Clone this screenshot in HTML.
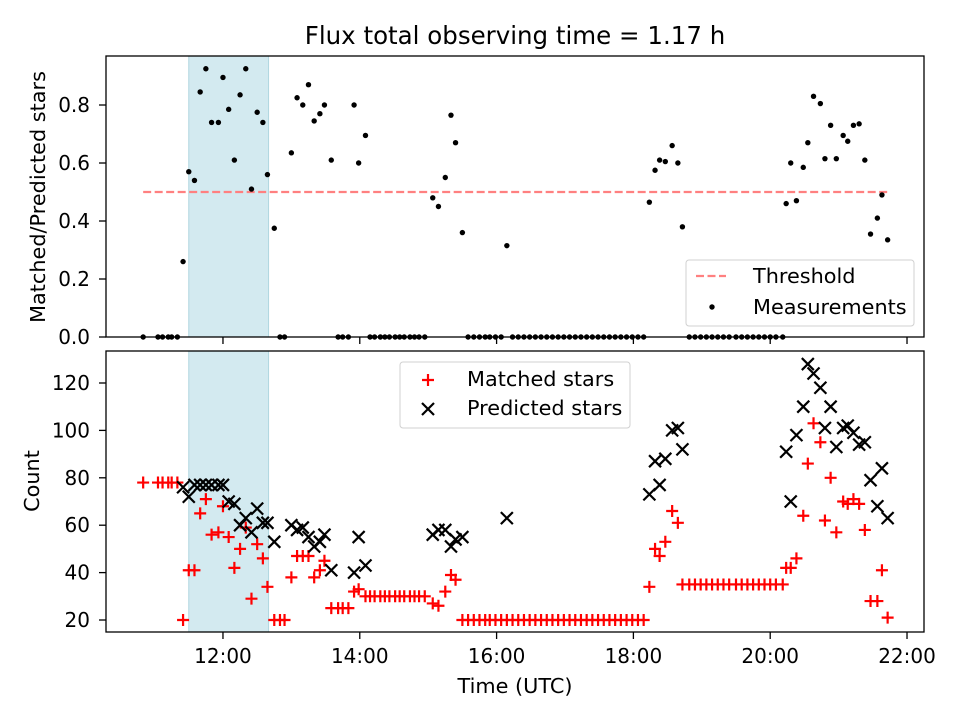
<!DOCTYPE html>
<html><head><meta charset="utf-8"><style>
body{margin:0;background:#fff}
svg text{font-family:"DejaVu Sans","Liberation Sans",sans-serif;fill:#000}
</style></head><body>
<svg id="chart" width="960" height="720" viewBox="0 0 960 720" xmlns="http://www.w3.org/2000/svg" style="position:absolute;left:0;top:0">
<rect width="960" height="720" fill="#fff"/>
<text x="515" y="44" font-size="24.5" text-anchor="middle">Flux total observing time = 1.17 h</text>
<g id="topg"></g><g id="botg"></g>
</svg>
<script>
// time in minutes after midnight (UTC)
const times=[650,663,667,672,675,680,685,690,695,700,705,710,716,720,725,730,735,740,745,750,755,759,765,770,774,780,785,790,795,800,805,809,815,821,825,830,835,839,845,
849,853,858,862,866,871,875,879,884,888,892,897,904,909,915,920,924,930,935,940,945,950,954,959,964,969,
974,979,984,989,994,999,1004,1009,1014,1019,1024,1029,1034,1039,1044,1049,1054,1059,1064,1069,1074,1079,1084,1089,
1094,1099,1103,1108,1114,1119,1123,1129,1134,1139,1144,1149,1154,1159,1164,1170,1175,1180,1185,1190,1195,1200,1205,1211,
1214,1218,1223,1229,1233,1238,1244,1248,1253,1258,1264,1268,1273,1278,1283,1288,1294,1298,1303];
const matched=[78,78,78,78,78,78,20,41,41,65,71,56,57,68,55,42,50,59,29,52,46,34,20,20,20,38,47,47,47,38,41,45,25,25,25,25,32,33,30,
30,30,30,30,30,30,30,30,30,30,30,30,27,26,32,39,37,20,20,20,20,20,20,20,20,20,
20,20,20,20,20,20,20,20,20,20,20,20,20,20,20,20,20,20,20,20,20,20,20,20,
34,50,47,53,66,61,35,35,35,35,35,35,35,35,35,35,35,35,35,35,35,35,35,35,
42,42,46,64,86,103,95,62,80,57,70,69,71,69,58,28,28,41,21];
const predicted=[null,null,null,null,null,null,76,72,77,77,77,77,77,77,70,69,60,63,57,67,61,61,53,null,null,60,58,59,55,51,53,56,41,null,null,null,40,55,43,
null,null,null,null,null,null,null,null,null,null,null,null,56,58,58,51,54,55,null,null,null,null,null,null,null,63,
null,null,null,null,null,null,null,null,null,null,null,null,null,null,null,null,null,null,null,null,null,null,null,null,
73,87,77,88,100,101,92,null,null,null,null,null,null,null,null,null,null,null,null,null,null,null,null,null,
91,70,98,110,128,124,118,101,110,93,101,102,99,94,95,79,68,84,63];
const ratio=[0,0,0,0,0,0,0.26,0.57,0.54,0.845,0.925,0.74,0.74,0.895,0.785,0.61,0.835,0.925,0.51,0.775,0.74,0.56,0.375,0,0,0.635,0.825,0.80,0.87,0.745,0.77,0.80,0.61,0,0,0,0.80,0.60,0.695,
0,0,0,0,0,0,0,0,0,0,0,0,0.48,0.45,0.55,0.765,0.67,0.36,0,0,0,0,0,0,0,0.315,
0,0,0,0,0,0,0,0,0,0,0,0,0,0,0,0,0,0,0,0,0,0,0,0,
0.465,0.575,0.61,0.605,0.66,0.60,0.38,0,0,0,0,0,0,0,0,0,0,0,0,0,0,0,0,0,
0.46,0.60,0.47,0.585,0.67,0.83,0.805,0.615,0.73,0.615,0.695,0.675,0.73,0.735,0.61,0.355,0.41,0.49,0.335];
const threshold=0.5;
const shadeSpan=[690,760];
const xTickVals=[720,840,960,1080,1200,1320];
const xTickLabels=["12:00","14:00","16:00","18:00","20:00","22:00"];
const topTicks=[0,0.2,0.4,0.6,0.8];
const botTicks=[20,40,60,80,100,120];

const NS="http://www.w3.org/2000/svg";
const L=106,R=924;
const xMin=617.4,xMax=1334.9;
const X=t=>L+(t-xMin)/(xMax-xMin)*(R-L);
const T={y0:56,y1:337,min:0,max:0.969};
const B={y0:351,y1:632,min:14.94,max:133.5};
const Yt=v=>T.y1-(v-T.min)/(T.max-T.min)*(T.y1-T.y0);
const Yb=v=>B.y1-(v-B.min)/(B.max-B.min)*(B.y1-B.y0);
function mk(p,tag,a,txt){const e=document.createElementNS(NS,tag);for(const k in a)e.setAttribute(k,a[k]);if(txt!=null)e.textContent=txt;p.appendChild(e);return e;}
const topG=document.getElementById('topg'),botG=document.getElementById('botg');

let s1=mk(topG,'rect',{x:X(shadeSpan[0]),y:T.y0,width:X(shadeSpan[1])-X(shadeSpan[0]),height:T.y1-T.y0,fill:'#d3eaf0',stroke:'#b0d6e0','stroke-width':1});


let s2=mk(botG,'rect',{x:X(shadeSpan[0]),y:B.y0,width:X(shadeSpan[1])-X(shadeSpan[0]),height:B.y1-B.y0,fill:'#d3eaf0',stroke:'#b0d6e0','stroke-width':1});



let th=mk(topG,'line',{x1:X(times[0]),x2:X(times[times.length-1]),y1:Yt(threshold),y2:Yt(threshold),stroke:'#ff8080','stroke-width':2.2,'stroke-dasharray':'8,3.5'});



times.forEach((t,i)=>{
  const c=mk(topG,'circle',{cx:X(t),cy:Yt(ratio[i]),r:2.7,fill:'#000'});
  
  
});
times.forEach((t,i)=>{
  const x=X(t),y=Yb(matched[i]);
  const g=mk(botG,'path',{d:`M${x-6},${y}H${x+6}M${x},${y-6}V${y+6}`,stroke:'#ff0000','stroke-width':2.2,fill:'none'});
  
  
});
times.forEach((t,i)=>{
  if(predicted[i]==null)return;
  const x=X(t),y=Yb(predicted[i]);
  const g=mk(botG,'path',{d:`M${x-6},${y-6}L${x+6},${y+6}M${x-6},${y+6}L${x+6},${y-6}`,stroke:'#000','stroke-width':2.2,fill:'none'});
  
  
});

[[topG,T],[botG,B]].forEach(([g,A],k)=>{
  const f=mk(g,'rect',{x:L,y:A.y0,width:R-L,height:A.y1-A.y0,fill:'none',stroke:'#000','stroke-width':1.3});
  
  
  xTickVals.forEach((v,i)=>{
    mk(g,'line',{x1:X(v),x2:X(v),y1:A.y1,y2:A.y1+7,stroke:'#000','stroke-width':1.3});
    if(k){const tl=mk(g,'text',{x:X(v),y:A.y1+31,'font-size':20,'text-anchor':'middle'},xTickLabels[i]);
      
      }
  });
});
topTicks.forEach(v=>{
  mk(topG,'line',{x1:L-7,x2:L,y1:Yt(v),y2:Yt(v),stroke:'#000','stroke-width':1.3});
  const t=mk(topG,'text',{x:L-16,y:Yt(v)+7,'font-size':20,'text-anchor':'end'},v.toFixed(1));
  
  
});
botTicks.forEach(v=>{
  mk(botG,'line',{x1:L-7,x2:L,y1:Yb(v),y2:Yb(v),stroke:'#000','stroke-width':1.3});
  const t=mk(botG,'text',{x:L-16,y:Yb(v)+7,'font-size':20,'text-anchor':'end'},String(v));
  
  
});
</script>
<svg style="position:absolute;left:0;top:0" width="960" height="720" xmlns="http://www.w3.org/2000/svg">
<text transform="translate(45,197) rotate(-90)" font-size="20.8" text-anchor="middle">Matched/Predicted stars</text>
<text transform="translate(39,481) rotate(-90)" font-size="20.8" text-anchor="middle">Count</text>
<text x="515" y="693" font-size="20.8" text-anchor="middle">Time (UTC)</text>
<g>
<rect x="686" y="260" width="228" height="66" rx="3" fill="#fff" fill-opacity="0.85" stroke="#d0d0d0"/>
<line x1="696" x2="726" y1="276" y2="276" stroke="#ff8080" stroke-width="2.2" stroke-dasharray="8,3.5"/>
<text x="753" y="283" font-size="20.8">Threshold</text>
<circle cx="712" cy="307" r="2.7" fill="#000"/>
<text x="753" y="314" font-size="20.8">Measurements</text>
</g>
<g>
<rect x="400" y="362" width="230" height="66" rx="3" fill="#fff" fill-opacity="0.85" stroke="#d0d0d0"/>
<path d="M422,380H434M428,374V386" stroke="#f00" stroke-width="2.2"/>
<text x="467" y="386" font-size="20.8">Matched stars</text>
<path d="M422,403L434,415M422,415L434,403" stroke="#000" stroke-width="2.2"/>
<text x="467" y="415" font-size="20.8">Predicted stars</text>
</g>
</svg>
</body></html>
